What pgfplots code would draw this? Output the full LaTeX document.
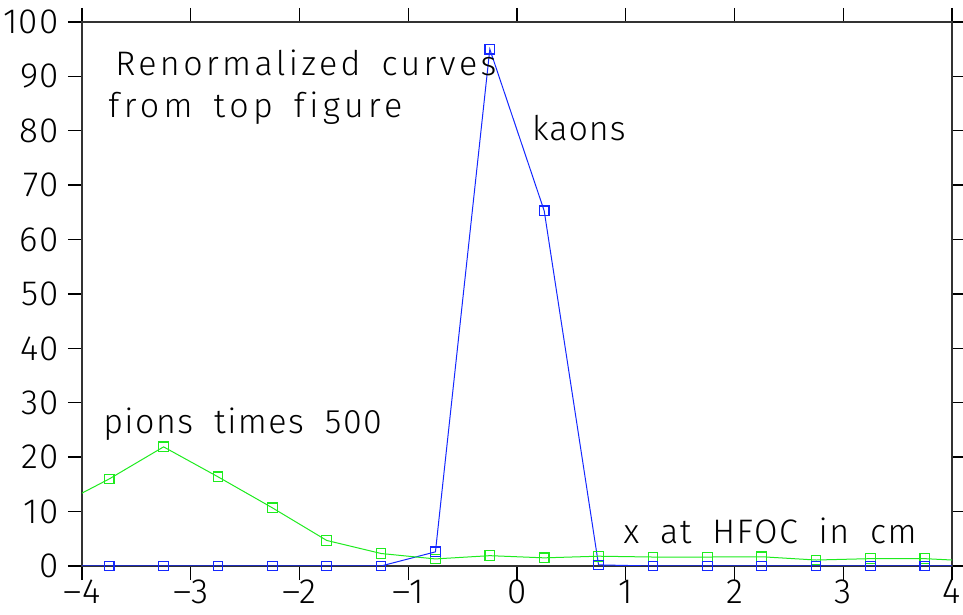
\documentclass[border=0pt]{standalone}
\usepackage{fontspec}
\setmainfont{Fira Sans Light}[Ligatures=NoCommon]
\usepackage{pgfplots}
\pgfplotsset{compat=1.18}
\usetikzlibrary{calc}

\definecolor{kaon}{RGB}{20,40,255}
\definecolor{pion}{RGB}{30,235,30}

% kaon yields per bin
\pgfplotstableread{
x y
-3.75 0
-3.25 0
-2.75 0
-2.25 0
-1.75 0
-1.25 0
-0.75 2.6
-0.25 95.0
0.25 65.3
0.75 0.2
1.25 0
1.75 0
2.25 0
2.75 0
3.25 0
3.75 0
}\kaons

% pion yields per bin, scaled by 500
\pgfplotstableread{
x y
-3.75 16.0
-3.25 21.9
-2.75 16.4
-2.25 10.7
-1.75 4.7
-1.25 2.3
-0.75 1.3
-0.25 1.9
0.25 1.5
0.75 1.8
1.25 1.65
1.75 1.65
2.25 1.7
2.75 1.1
3.25 1.35
3.75 1.35
}\pions

% annotation font with adjustable letter spacing and wide word gaps
\newcommand{\annot}[1]{\addfontfeatures{LetterSpace=#1}\fontsize{17}{19}\selectfont\spaceskip=10.5pt plus 1pt}

\begin{document}
\begin{tikzpicture}
\begin{axis}[
  scale only axis,
  width=435pt, height=272pt,
  xmin=-4, xmax=4, ymin=0, ymax=100,
  xtick={-4,...,4},
  xticklabels={–4,–3,–2,–1,0,1,2,3,4},
  ytick={0,10,...,100},
  yticklabels={0,10,20,30,40,50,60,70,80,90,100},
  tick align=outside,
  major tick length=7pt,
  minor tick num=0,
  tick style={black, line width=0.7pt},
  axis line style={black!80, line width=0.9pt},
  ticklabel style={font=\addfontfeatures{LetterSpace=4}\fontsize{17.5}{19}\selectfont},
  xticklabel style={yshift=3.5pt},
  yticklabel style={xshift=-1pt},
  clip=true,
]
% connecting lines, running to the frame edges
\addplot[kaon, line width=0.5pt] coordinates {(-4,0) (-3.75,0) (-3.25,0) (-2.75,0) (-2.25,0) (-1.75,0) (-1.25,0) (-0.75,2.6) (-0.25,95.0) (0.25,65.3) (0.75,0.2) (1.25,0) (1.75,0) (2.25,0) (2.75,0) (3.25,0) (3.75,0) (4,0)};
\addplot[pion, line width=0.5pt] coordinates {(-4,13.4) (-3.75,16.0) (-3.25,21.9) (-2.75,16.4) (-2.25,10.7) (-1.75,4.7) (-1.25,2.3) (-0.75,1.3) (-0.25,1.9) (0.25,1.5) (0.75,1.8) (1.25,1.65) (1.75,1.65) (2.25,1.7) (2.75,1.1) (3.25,1.35) (3.75,1.35) (4,1.1)};
% bin markers
\addplot[pion, only marks, mark=square, mark size=2.4pt, mark options={line width=0.6pt}] table {\pions};
\addplot[kaon, only marks, mark=square, mark size=2.4pt, mark options={line width=0.6pt}] table {\kaons};

\begin{scope}[every node/.style={inner sep=0pt, anchor=base west}]
\node[font=\annot{10}] at (rel axis cs:0.038,0.901) {Renormalized curves};
\node[font=\annot{13}] at (rel axis cs:0.030,0.824) {from top figure};
\node[font=\annot{3}] at (rel axis cs:0.517,0.783) {kaons};
\node[font=\annot{4.4}] at (rel axis cs:0.024,0.244) {pions times 500};
\node[font=\annot{4.4}] at (rel axis cs:0.622,0.042) {x at HFOC in cm};
\end{scope}
\end{axis}
\pgfresetboundingbox
\path ($(current axis.south west)+(-41pt,-24.5pt)$) rectangle ($(current axis.north east)+(5.5pt,11pt)$);
\end{tikzpicture}
\end{document}
